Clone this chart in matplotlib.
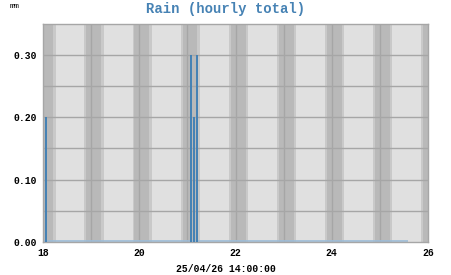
#!/usr/bin/env python3
"""Rain (hourly total) bar plot, weewx style with day/night shading."""
import matplotlib
matplotlib.use("Agg")
import matplotlib.pyplot as plt

# data: day-of-month (fractional) -> mm
bar_day = [18.06, 21.077, 21.129, 21.20]
bar_mm = [0.20, 0.30, 0.20, 0.30]
series_start, series_end = 18.0, 25.58   # span of the zero-valued series line
x_ticks = [18, 20, 22, 24, 26]
y_ticks = [0.00, 0.10, 0.20, 0.30]
title = "Rain (hourly total)"
x_label = "25/04/26 14:00:00"
unit = "mm"

MONO = ["Liberation Mono", "DejaVu Sans Mono"]
DAY, NIGHT, TWI = "#e0e0e0", "#b9b9b9", "#c9c9c9"
GRID = "#a6a6a6"
BLUE = "#4682b4"

fig = plt.figure(figsize=(4.51, 2.75), dpi=100, facecolor="white")
ax = fig.add_axes([43/451, 1-242/275, (428-43)/451, (242-23.5)/275])
ax.set_facecolor(DAY)
ax.set_xlim(18, 26); ax.set_ylim(0, 0.35)

# night bands around each midnight, with twilight edges
for d in range(18, 27):
    ax.axvspan(d-0.14, d-0.10, color=TWI, lw=0, zorder=0)
    ax.axvspan(d-0.10, d+0.21, color=NIGHT, lw=0, zorder=0)
    ax.axvspan(d+0.21, d+0.26, color=TWI, lw=0, zorder=0)

for d in range(19, 26):
    ax.axvline(d, color=GRID, lw=1, zorder=1)
for v in [0.05, 0.10, 0.15, 0.20, 0.25, 0.30]:
    ax.axhline(v, color=GRID, lw=1, zorder=1)

ax.hlines(0.001, series_start, series_end, color="#9cbcd8", lw=1.2, zorder=2)
ax.bar(bar_day, bar_mm, width=0.04, color=BLUE, lw=0, zorder=3)

for s in ax.spines.values():
    s.set_color(GRID); s.set_linewidth(1)

ax.set_xticks(x_ticks)
ax.set_xticklabels([str(t) for t in x_ticks], family=MONO, fontsize=7, fontweight="bold")
ax.set_yticks(y_ticks)
ax.set_yticklabels([f"{t:.2f}" for t in y_ticks], family=MONO, fontsize=7, fontweight="bold")
ax.tick_params(length=0, pad=4)

fig.text(0.5, 1-269/275, x_label, ha="center", va="center", family=MONO,
         fontsize=7, fontweight="bold")
fig.text(0.5, 1-9/275, title, ha="center", va="center", family=MONO,
         fontsize=10, fontweight="bold", color=BLUE)
fig.text(10/451, 1-6/275, unit, ha="left", va="center", family=MONO, fontsize=6)

fig.savefig("out.png", dpi=100, facecolor="white")
